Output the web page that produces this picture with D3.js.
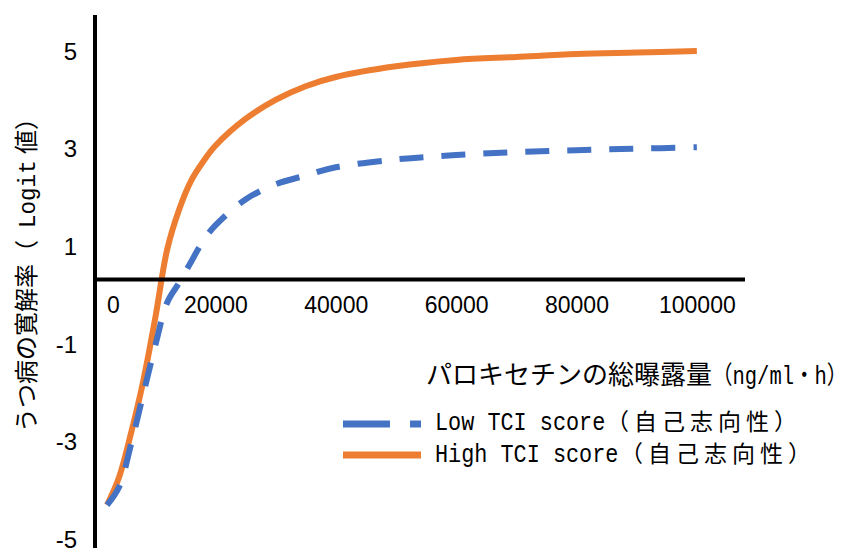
<!DOCTYPE html>
<html>
<head>
<meta charset="utf-8">
<script src="https://cdn.jsdelivr.net/npm/d3@7"></script>
<style>
  html, body { margin: 0; padding: 0; background: #fff; }
  svg { display: block; }
</style>
</head>
<body>
<svg id="chart" width="853" height="548"></svg>
<script>
// Total paroxetine exposure (ng/ml·h) at which the curves are sampled
const exposure = [2000, 4000, 6000, 8000, 10000, 12000, 14000, 16000, 18000, 20000,
                  25000, 30000, 35000, 40000, 50000, 60000, 70000, 80000, 90000, 100000];
// Remission rate (logit) for the low self-directedness group
const lowTci  = [-4.62, -4.25, -3.37, -2.36, -1.36, -0.47, -0.06, 0.37, 0.80, 1.11,
                 1.64, 1.95, 2.13, 2.30, 2.46, 2.55, 2.61, 2.65, 2.68, 2.71];
// Remission rate (logit) for the high self-directedness group
const highTci = [-4.62, -4.05, -3.14, -2.09, -0.80, 0.62, 1.44, 2.03, 2.42, 2.74,
                 3.29, 3.68, 3.96, 4.15, 4.37, 4.50, 4.56, 4.62, 4.65, 4.68];

const xTicks = [0, 20000, 40000, 60000, 80000, 100000];
const yTicks = [-5, -3, -1, 1, 3, 5];

const seriesLabels = ["Low TCI score", "High TCI score"];
const seriesSuffix = "（自己志向性）";
const xTitleMain = "パロキセチンの総曝露量";
const xTitleUnit = "（ng/ml・h）";
const yTitleMain = "うつ病の寛解率（";
const yTitleLatin = "Logit";
const yTitleEnd = "値）";

const BLUE = "#4472C4";
const ORANGE = "#ED7D31";
const CJK = "'Noto Sans CJK JP', 'Noto Sans CJK SC', sans-serif";
const MONO = "'Liberation Mono', 'DejaVu Sans Mono', 'Noto Sans CJK JP', monospace";
const NUM = "'Liberation Sans', Arial, sans-serif";

const svg = d3.select("#chart");

const x = d3.scaleLinear().domain([0, 108000]).range([95, 745]);
const y = d3.scaleLinear().domain([-5.46, 5.42]).range([546, 15]);

// curves
const line = d3.line()
  .x((d, i) => x(exposure[i]))
  .y(d => y(d))
  .curve(d3.curveCatmullRom.alpha(0.5));

svg.append("path")
  .attr("d", line(highTci))
  .attr("fill", "none")
  .attr("stroke", ORANGE)
  .attr("stroke-width", 6);

svg.append("path")
  .attr("d", line(lowTci))
  .attr("fill", "none")
  .attr("stroke", BLUE)
  .attr("stroke-width", 6)
  .attr("stroke-dasharray", "24,18");

// axis lines
svg.append("line")
  .attr("x1", x(0)).attr("x2", x(0))
  .attr("y1", y(5.42)).attr("y2", 548)
  .attr("stroke", "#000").attr("stroke-width", 4);

svg.append("line")
  .attr("x1", x(0) - 2).attr("x2", x(108000))
  .attr("y1", y(0)).attr("y2", y(0))
  .attr("stroke", "#000").attr("stroke-width", 4);

// x tick labels
const gx = svg.append("g")
  .attr("transform", `translate(0,${y(0)})`)
  .call(d3.axisBottom(x).tickValues(xTicks).tickSize(0).tickPadding(17)
        .tickFormat(d => String(d)));
gx.select(".domain").remove();
gx.selectAll("text")
  .attr("font-family", NUM)
  .attr("font-size", 23)
  .attr("fill", "#000")
  .attr("dx", d => d === 0 ? 18 : 0);

// y tick labels
const gy = svg.append("g")
  .attr("transform", `translate(${x(0)},0)`)
  .call(d3.axisLeft(y).tickValues(yTicks).tickSize(0).tickPadding(18)
        .tickFormat(d => String(d)));
gy.select(".domain").remove();
gy.selectAll("text")
  .attr("font-family", NUM)
  .attr("font-size", 24)
  .attr("fill", "#000")
  .attr("y", 16);

// y axis title (rotated); latin run is narrowed to a half-width pitch
const yRot = "translate(35,432) rotate(-90)";
svg.append("text").attr("transform", yRot)
  .attr("font-family", CJK).attr("font-size", 24).text(yTitleMain);
svg.append("text").attr("transform", `${yRot} translate(204,0) scale(0.94,1)`)
  .attr("font-family", MONO).attr("font-size", 24).text(yTitleLatin);
svg.append("text").attr("transform", `${yRot} translate(278,0)`)
  .attr("font-family", CJK).attr("font-size", 24).text(yTitleEnd);

// x axis title
svg.append("text").attr("x", 426).attr("y", 384)
  .attr("font-family", CJK).attr("font-size", 26).text(xTitleMain);
svg.append("text").attr("transform", "translate(712,384) scale(0.82,1)")
  .attr("font-family", MONO).attr("font-size", 25).text(xTitleUnit);

// legend
const legend = [
  { label: seriesLabels[0], color: BLUE, dash: "47,20", ly: 424, base: 430, cjkX: 606 },
  { label: seriesLabels[1], color: ORANGE, dash: null, ly: 455, base: 462, cjkX: 620 }
];
const lg = svg.append("g");
legend.forEach(d => {
  lg.append("line")
    .attr("x1", 343).attr("x2", 421)
    .attr("y1", d.ly).attr("y2", d.ly)
    .attr("stroke", d.color).attr("stroke-width", 7)
    .attr("stroke-dasharray", d.dash);
  lg.append("text").attr("transform", `translate(435,${d.base}) scale(0.84,1)`)
    .attr("font-family", MONO).attr("font-size", 26)
    .text(d.label);
  lg.append("text").attr("x", d.cjkX).attr("y", d.base)
    .attr("font-family", CJK).attr("font-size", 23)
    .attr("letter-spacing", 5)
    .text(seriesSuffix);
});
</script>
</body>
</html>
